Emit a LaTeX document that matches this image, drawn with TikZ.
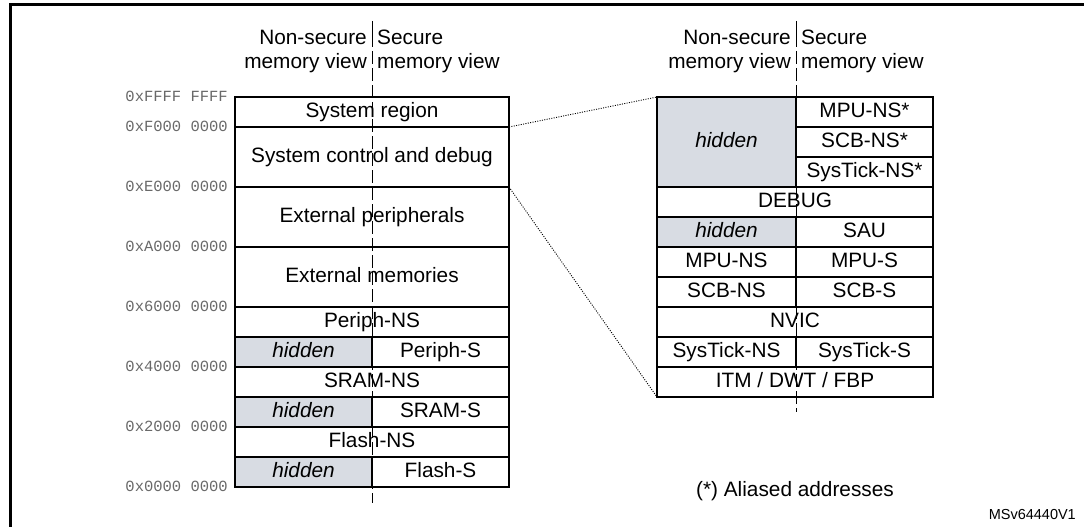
\documentclass[tikz,border=0pt]{standalone}
\usepackage{fontspec}
\setmainfont{Liberation Sans}
\newfontfamily\addrfont{Liberation Mono}
\definecolor{hidc}{RGB}{216,220,227}
\definecolor{addrc}{RGB}{105,105,105}
\newcommand\labfont{\fontsize{20.8}{24}\selectfont}
\begin{document}
\begin{tikzpicture}[x=1pt,y=-1pt,
  box/.style={draw, line width=1.2pt, inner sep=0pt, outer sep=0pt, anchor=north west,
    text height=14.9pt, text depth=3pt, font=\labfont, minimum height=30pt},
  hidbox/.style={box, fill=hidc, font=\labfont\itshape},
  addr/.style={anchor=base east, font=\addrfont\fontsize{15.5}{18}\selectfont, text=addrc, inner sep=0pt},
  hdr/.style={font=\labfont, inner sep=0pt},
  divider/.style={line width=1pt, dash pattern=on 13pt off 4pt},
  solidsep/.style={line width=1pt},
  zoomline/.style={line width=0.9pt, dash pattern=on 1pt off 1.4pt}
]
\useasboundingbox (0,0) rectangle (1084,527);
\draw[line width=3pt] (10,527) -- (10,5) -- (1084,5);

% headers left
\node[hdr, anchor=base east] (lns1) at (367,45) {Non-secure};
\node[hdr, anchor=base east] (lns2) at (367,69) {memory view};
\node[hdr, anchor=base west] (ls1) at (377,45) {Secure};
\node[hdr, anchor=base west] (ls2) at (377,69) {memory view};
% headers right
\node[hdr, anchor=base east] (rns1) at (791,45) {Non-secure};
\node[hdr, anchor=base east] (rns2) at (791,69) {memory view};
\node[hdr, anchor=base west] (rs1) at (801,45) {Secure};
\node[hdr, anchor=base west] (rs2) at (801,69) {memory view};

% left memory map
\node[box, minimum width=274pt] (sysreg) at (235,97) {System region};
\node[box, minimum width=274pt, minimum height=60pt] (sysctl) at (235,127) {System control and debug};
\node[box, minimum width=274pt, minimum height=60pt] (extper) at (235,187) {External peripherals};
\node[box, minimum width=274pt, minimum height=60pt] (extmem) at (235,247) {External memories};
\node[box, minimum width=274pt] (perns) at (235,307) {Periph-NS};
\node[hidbox, minimum width=137pt] (perhid) at (235,337) {hidden};
\node[box, minimum width=137pt] (pers) at (372,337) {Periph-S};
\node[box, minimum width=274pt] (sramns) at (235,367) {SRAM-NS};
\node[hidbox, minimum width=137pt] (sramhid) at (235,397) {hidden};
\node[box, minimum width=137pt] (srams) at (372,397) {SRAM-S};
\node[box, minimum width=274pt] (flashns) at (235,427) {Flash-NS};
\node[hidbox, minimum width=137pt] (flashhid) at (235,457) {hidden};
\node[box, minimum width=137pt] (flashs) at (372,457) {Flash-S};

% addresses
\node[addr] (a1) at (228,101.5) {0xFFFF FFFF};
\node[addr] (a2) at (228,131.5) {0xF000 0000};
\node[addr] (a3) at (228,191.5) {0xE000 0000};
\node[addr] (a4) at (228,251.5) {0xA000 0000};
\node[addr] (a5) at (228,311.5) {0x6000 0000};
\node[addr] (a6) at (228,371.5) {0x4000 0000};
\node[addr] (a7) at (228,431.5) {0x2000 0000};
\node[addr] (a8) at (228,491.5) {0x0000 0000};

% right (zoomed) map
\node[hidbox, minimum width=139pt, minimum height=90pt] (rhid1) at (657,97) {hidden};
\node[box, minimum width=137pt] (mpunsa) at (796,97) {MPU-NS*};
\node[box, minimum width=137pt] (scbnsa) at (796,127) {SCB-NS*};
\node[box, minimum width=137pt] (systnsa) at (796,157) {SysTick-NS*};
\node[box, minimum width=276pt] (debug) at (657,187) {DEBUG};
\node[hidbox, minimum width=139pt] (rhid2) at (657,217) {hidden};
\node[box, minimum width=137pt] (sau) at (796,217) {SAU};
\node[box, minimum width=139pt] (mpuns) at (657,247) {MPU-NS};
\node[box, minimum width=137pt] (mpus) at (796,247) {MPU-S};
\node[box, minimum width=139pt] (scbns) at (657,277) {SCB-NS};
\node[box, minimum width=137pt] (scbs) at (796,277) {SCB-S};
\node[box, minimum width=276pt] (nvic) at (657,307) {NVIC};
\node[box, minimum width=139pt] (systns) at (657,337) {SysTick-NS};
\node[box, minimum width=137pt] (systs) at (796,337) {SysTick-S};
\node[box, minimum width=276pt] (itm) at (657,367) {ITM / DWT / FBP};

% dividers
\coordinate (ltop) at (372,21);
\coordinate (lmid) at (372,47);
\coordinate (lmid2) at (372,51);
\coordinate (lbot) at (372,503);
\coordinate (rtop) at (796,21);
\coordinate (rmid) at (796,47);
\coordinate (rmid2) at (796,51);
\coordinate (rbot) at (796,412);
\draw[solidsep] (ltop) -- (lmid);
\draw[divider] (lmid2) -- (lbot);
\draw[solidsep] (rtop) -- (rmid);
\draw[divider] (rmid2) -- (rbot);

% zoom connectors
\draw[zoomline] (sysctl.north east) -- (rhid1.north west);
\draw[zoomline] (sysctl.south east) -- (itm.south west);

% notes
\node[hdr] (alias) at (795,491) {(*) Aliased addresses};
\node[hdr, anchor=base east, font=\fontsize{14.5}{17}\selectfont] (ref) at (1076,519) {MSv64440V1};
\end{tikzpicture}
\end{document}
